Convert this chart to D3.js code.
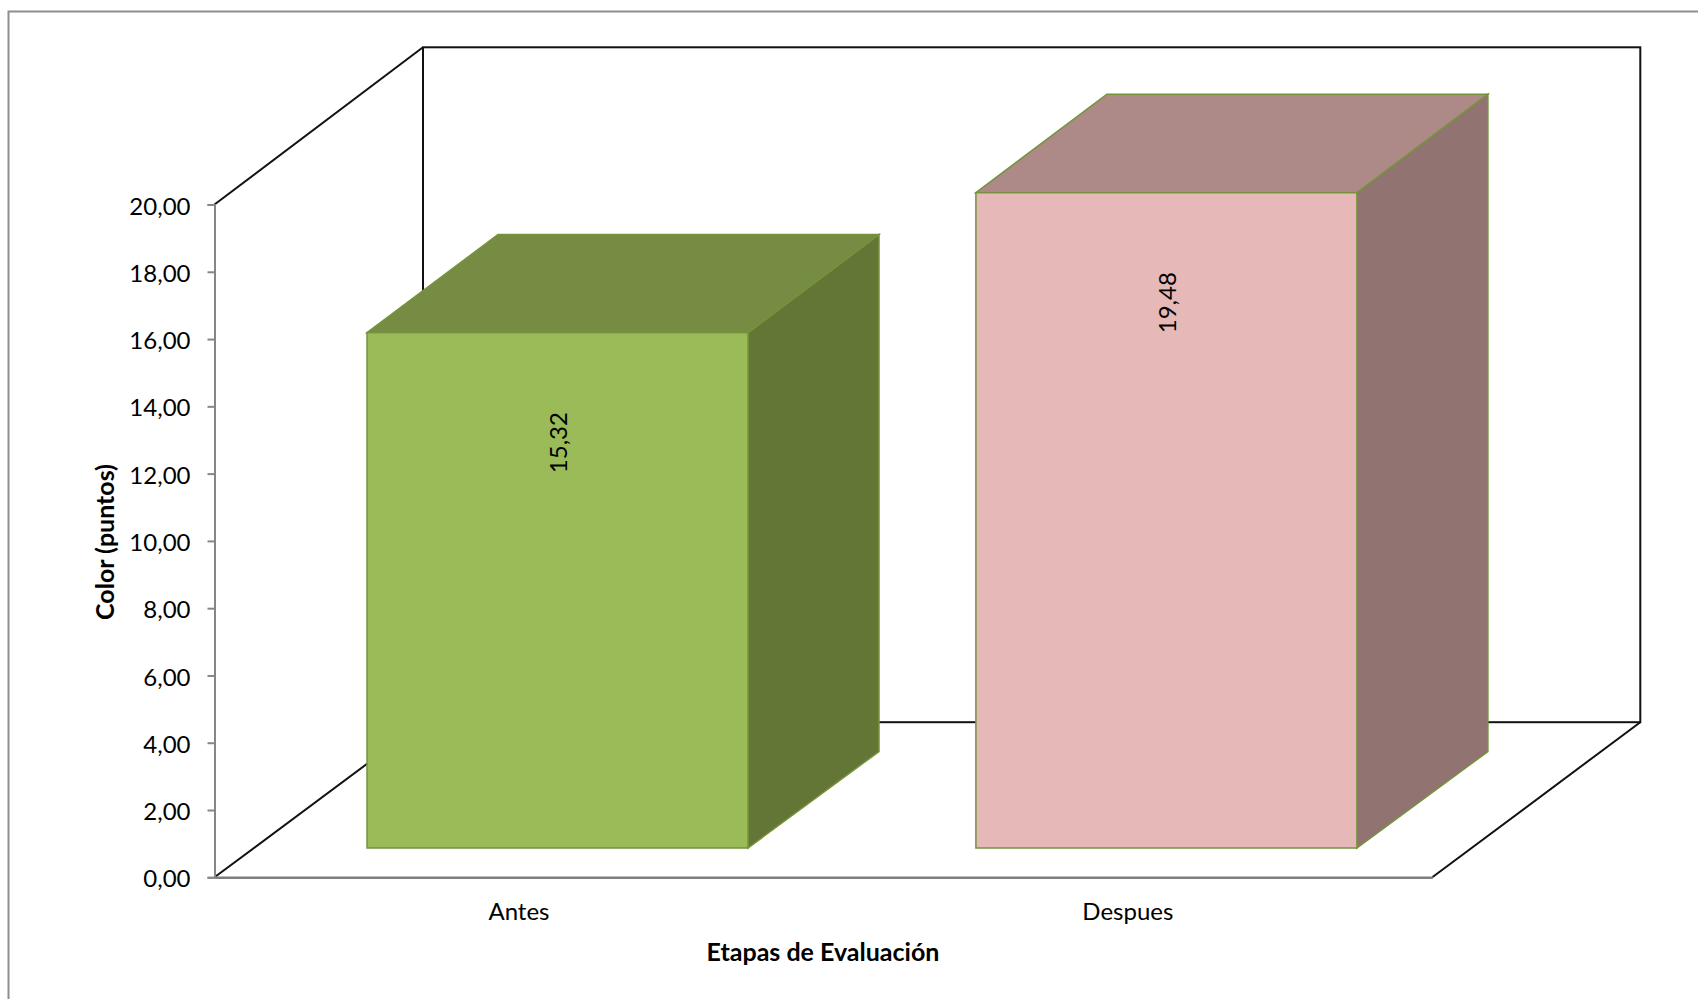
<!DOCTYPE html>
<html lang="es">
<head>
<meta charset="utf-8">
<script src="https://cdn.jsdelivr.net/npm/d3@7"></script>
<style>
  html, body { margin: 0; padding: 0; background: #fff; overflow: hidden; }
  text { font-family: Lato, "Open Sans", sans-serif; fill: #000; }
</style>
</head>
<body>
<div id="chart"></div>
<script>
// Chart values
const categories = ["Antes", "Despues"];
const values = [15.32, 19.48];
const valueLabels = ["15,32", "19,48"];
const yTicks = [0, 2, 4, 6, 8, 10, 12, 14, 16, 18, 20];
const yTitle = "Color (puntos)";
const xTitle = "Etapas de Evaluación";

// Face colours of each box: front, top, side
const frontColors = ["#9bbb59", "#e6b8b7"];
const topColors = ["#778c43", "#ad8a87"];
const sideColors = ["#647636", "#917372"];
const edgeColor = "#76923c";

const width = 1698, height = 999;
const svg = d3.select("#chart").append("svg")
  .attr("width", width).attr("height", height)
  .style("display", "block");

// Front plane of the 3D box and its back wall
const xFront = d3.scaleBand().domain(categories).range([214.5, 1432.3]);
const yFront = d3.scaleLinear().domain([0, 20]).range([877.3, 204.5]);
const yBack = d3.scaleLinear().domain([0, 20]).range([722.2, 47.3]);
const wallDepth = 208;
const wallLeft = 423;
const yMax = 20;

// Bars sit inside the band, set back from the front plane
const barInsetLeft = 152.5, barWidth = 381, barDepth = 131, barDrop = 29.3;

// Outer chart frame
svg.append("path")
  .attr("d", `M8.5,${height} V11.5 H${width}`)
  .attr("fill", "none").attr("stroke", "#8e8e8e").attr("stroke-width", 2);

// Back wall and floor outline
const frontLeft = xFront.range()[0], frontRight = xFront.range()[1];
const wall = svg.append("g").attr("fill", "none").attr("stroke", "#111").attr("stroke-width", 2);
wall.append("rect")
  .attr("x", wallLeft).attr("y", yBack(yMax))
  .attr("width", frontRight + wallDepth - wallLeft)
  .attr("height", yBack(0) - yBack(yMax));
wall.append("line")
  .attr("x1", frontLeft).attr("y1", yFront(yMax))
  .attr("x2", wallLeft).attr("y2", yBack(yMax));
wall.append("line")
  .attr("x1", frontLeft).attr("y1", yFront(0))
  .attr("x2", wallLeft).attr("y2", yBack(0));
wall.append("line")
  .attr("x1", frontRight).attr("y1", yFront(0))
  .attr("x2", frontRight + wallDepth).attr("y2", yBack(0));

// Bars: side, top and front faces
const data = categories.map((c, i) => ({ c, v: values[i], i }));
const bars = svg.append("g").selectAll("g").data(data).join("g");
const x0 = d => xFront(d.c) + barInsetLeft;
const x1 = d => x0(d) + barWidth;
const yBase = yFront(0) - barDrop;
const yTop = d => yFront(d.v) - barDrop;
const yBackBase = yBack(0) + barDrop;
const yBackTop = d => yBack(d.v) + barDrop;
const pts = a => a.map(p => p.join(",")).join(" ");

bars.append("polygon")
  .attr("points", d => pts([[x1(d), yTop(d)], [x1(d) + barDepth, yBackTop(d)], [x1(d) + barDepth, yBackBase], [x1(d), yBase]]))
  .attr("fill", d => sideColors[d.i]).attr("stroke", edgeColor).attr("stroke-width", 1.5);
bars.append("polygon")
  .attr("points", d => pts([[x0(d), yTop(d)], [x0(d) + barDepth, yBackTop(d)], [x1(d) + barDepth, yBackTop(d)], [x1(d), yTop(d)]]))
  .attr("fill", d => topColors[d.i]).attr("stroke", edgeColor).attr("stroke-width", 1.5);
bars.append("rect")
  .attr("x", x0).attr("y", yTop)
  .attr("width", barWidth).attr("height", d => yBase - yTop(d))
  .attr("fill", d => frontColors[d.i]).attr("stroke", edgeColor).attr("stroke-width", 1.5);

// Value labels, rotated, a fixed distance below each bar's top edge
bars.append("text")
  .attr("transform", d => `translate(${x0(d) + barWidth / 2 + 3.5},${yTop(d) + 110}) rotate(-90)`)
  .attr("text-anchor", "middle").attr("dominant-baseline", "middle")
  .attr("font-size", 24)
  .text(d => valueLabels[d.i]);

// Value axis
const yAxis = d3.axisLeft(yFront).tickValues(yTicks).tickSize(7).tickPadding(17)
  .tickFormat(d => d3.format(".2f")(d).replace(".", ","));
const yG = svg.append("g").attr("transform", `translate(${frontLeft},0)`).call(yAxis);
yG.selectAll("path, line").attr("stroke", "#868686").attr("stroke-width", 2);
yG.selectAll("text").attr("font-size", 24).attr("font-family", "Lato").attr("fill", "#000").attr("dy", "0.4em");

// Category axis
const xAxis = d3.axisBottom(xFront).tickSize(0).tickPadding(26);
const xG = svg.append("g").attr("transform", `translate(0,${yFront(0)})`).call(xAxis);
xG.select("path").attr("stroke", "#7f7f7f").attr("stroke-width", 2.5);
xG.selectAll("text").attr("font-size", 24).attr("font-family", "Lato").attr("fill", "#000");

// Axis titles
svg.append("text")
  .attr("transform", "translate(108,542) rotate(-90)")
  .attr("text-anchor", "middle").attr("dominant-baseline", "middle")
  .attr("font-size", 25).attr("font-weight", 700)
  .text(yTitle);
svg.append("text")
  .attr("x", 823).attr("y", 955)
  .attr("text-anchor", "middle").attr("dominant-baseline", "middle")
  .attr("font-size", 25).attr("font-weight", 700)
  .text(xTitle);
</script>
</body>
</html>
